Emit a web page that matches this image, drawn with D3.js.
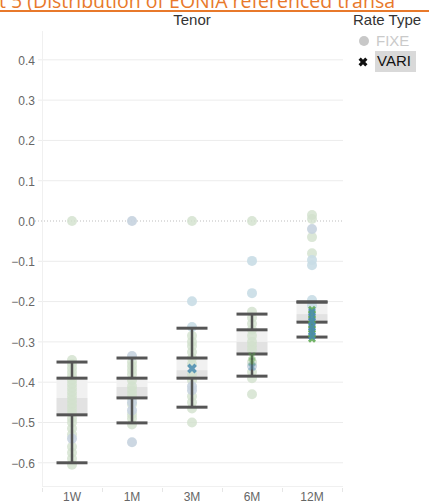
<!DOCTYPE html>
<html><head><meta charset="utf-8">
<script src="https://cdn.jsdelivr.net/npm/d3@7"></script>
<style>html,body{margin:0;padding:0;background:#fff;overflow:hidden}</style>
</head><body>
<svg id="chart" width="429" height="503"></svg>
<script>
// ---- data ----
const tenors = ["1W", "1M", "3M", "6M", "12M"];
const yTicks = [0.4, 0.3, 0.2, 0.1, 0.0, -0.1, -0.2, -0.3, -0.4, -0.5, -0.6];
const rateTypes = ["FIXE", "VARI"];

// box plot statistics per tenor
const upperWhisker = [-0.350, -0.340, -0.266, -0.231, -0.201];
const q3 = [-0.390, -0.390, -0.340, -0.270, -0.201];
const median = [-0.439, -0.412, -0.370, -0.300, -0.231];
const q1 = [-0.481, -0.439, -0.390, -0.330, -0.251];
const lowerWhisker = [-0.600, -0.501, -0.462, -0.385, -0.288];

// FIXE transactions (circles), by colour group: [tenor, rate]
const fixeGreen = [
  ["1W",0.0],["1W",-0.345],["1W",-0.355],["1W",-0.365],["1W",-0.375],["1W",-0.385],["1W",-0.395],
  ["1W",-0.405],["1W",-0.415],["1W",-0.425],["1W",-0.435],["1W",-0.445],["1W",-0.455],["1W",-0.465],
  ["1W",-0.475],["1W",-0.49],["1W",-0.50],["1W",-0.515],["1W",-0.53],["1W",-0.56],["1W",-0.575],
  ["1W",-0.59],["1W",-0.605],
  ["1M",-0.35],["1M",-0.36],["1M",-0.37],["1M",-0.38],["1M",-0.395],["1M",-0.41],["1M",-0.42],
  ["1M",-0.43],["1M",-0.44],["1M",-0.455],["1M",-0.48],["1M",-0.49],["1M",-0.505],
  ["3M",0.0],["3M",-0.285],["3M",-0.30],["3M",-0.31],["3M",-0.325],["3M",-0.34],["3M",-0.355],
  ["3M",-0.38],["3M",-0.395],["3M",-0.435],["3M",-0.45],["3M",-0.465],["3M",-0.50],
  ["6M",0.0],["6M",-0.225],["6M",-0.24],["6M",-0.255],["6M",-0.27],["6M",-0.285],["6M",-0.30],
  ["6M",-0.31],["6M",-0.32],["6M",-0.35],["6M",-0.375],["6M",-0.39],["6M",-0.43],
  ["12M",0.015],["12M",0.005],["12M",-0.04],["12M",-0.08]
];
const fixeSlate = [
  ["1W",-0.54],
  ["1M",0.0],["1M",-0.335],["1M",-0.45],["1M",-0.47],["1M",-0.549],
  ["3M",-0.41],["3M",-0.42],
  ["6M",-0.36],
  ["12M",-0.02]
];
const fixeSky = [
  ["3M",-0.199],["3M",-0.263],
  ["6M",-0.099],["6M",-0.179],
  ["12M",-0.097],["12M",-0.11],["12M",-0.196],["12M",-0.21]
];
// VARI transactions (crosses)
const variGreen = [
  ["6M",-0.335],["6M",-0.35],
  ["12M",-0.22],["12M",-0.232],["12M",-0.245],["12M",-0.258],["12M",-0.268],["12M",-0.28],["12M",-0.292]
];
const variBlue = [
  ["3M",-0.366],
  ["6M",-0.362],
  ["12M",-0.226],["12M",-0.238],["12M",-0.25],["12M",-0.263],["12M",-0.274],["12M",-0.286]
];

// ---- drawing ----
const svg = d3.select("#chart");
const font = "'Liberation Sans', Arial, sans-serif";

const x = d3.scaleBand().domain(tenors).range([42, 342]);
const y = d3.scaleLinear().domain([-0.6576, 0.4715]).range([486, 31]);
const cx = t => x(t) + x.bandwidth() / 2;

// title (cropped by the top edge as in the original)
svg.append("text").attr("x", -1).attr("y", 8)
  .attr("font-family", "'Open Sans', sans-serif").attr("font-size", 19.5)
  .attr("fill", "#e8792b").text("t 5 (Distribution of EONIA referenced transa");
svg.append("rect").attr("x", 0).attr("y", 10).attr("width", 429).attr("height", 2).attr("fill", "#e8792b");

// headers
svg.append("text").attr("x", (42 + 342) / 2).attr("y", 25).attr("text-anchor", "middle")
  .attr("font-family", font).attr("font-size", 15).attr("fill", "#333").text("Tenor");
svg.append("text").attr("x", 353).attr("y", 25)
  .attr("font-family", font).attr("font-size", 15).attr("fill", "#333").text("Rate Type");

// gridlines
const grid = svg.append("g");
yTicks.forEach(v => {
  if (v === 0) return;
  grid.append("line").attr("x1", 38).attr("x2", 343).attr("y1", y(v)).attr("y2", y(v))
    .attr("stroke", "#ececec").attr("stroke-width", 1);
});
grid.append("line").attr("x1", 35).attr("x2", 343).attr("y1", y(0)).attr("y2", y(0))
  .attr("stroke", "#bdbdbd").attr("stroke-width", 1).attr("stroke-dasharray", "1,2");

// axes frame
svg.append("line").attr("x1", 42.5).attr("x2", 42.5).attr("y1", 31).attr("y2", 486)
  .attr("stroke", "#f0f0f0");
svg.append("line").attr("x1", 42).attr("x2", 343).attr("y1", 486.5).attr("y2", 486.5)
  .attr("stroke", "#f0f0f0");

// y axis labels
const yAxis = d3.axisLeft(y).tickValues(yTicks).tickSize(0).tickPadding(0)
  .tickFormat(d3.format(".1f"));
const ya = svg.append("g").attr("transform", "translate(35,0)").call(yAxis);
ya.select(".domain").remove();
ya.selectAll("text").attr("font-family", font).attr("font-size", 12).attr("fill", "#666")
  .attr("dy", "0.36em").attr("x", 0);

// x axis
const xAxis = d3.axisBottom(x).tickSize(0).tickPadding(0);
const xa = svg.append("g").attr("transform", "translate(0,488)").call(xAxis);
xa.select(".domain").remove();
xa.selectAll("text").attr("font-family", font).attr("font-size", 12).attr("fill", "#666")
  .attr("y", 13).attr("dy", 0);
d3.range(tenors.length + 1).forEach(i => {
  const xx = 42 + i * x.step();
  svg.append("line").attr("x1", xx + 0.5).attr("x2", xx + 0.5).attr("y1", 488).attr("y2", 492)
    .attr("stroke", "#e6e6e6");
});

// box fills
const bw = 31;
const boxes = svg.append("g");
tenors.forEach((t, i) => {
  boxes.append("rect").attr("x", cx(t) - bw / 2).attr("width", bw)
    .attr("y", y(q3[i])).attr("height", y(median[i]) - y(q3[i])).attr("fill", "#f1f1f1");
  boxes.append("rect").attr("x", cx(t) - bw / 2).attr("width", bw)
    .attr("y", y(median[i])).attr("height", y(q1[i]) - y(median[i])).attr("fill", "#e2e2e2");
});

// FIXE circles (faded)
const marks = svg.append("g");
const circleSeries = [
  {data: fixeGreen, color: "#d2e1cd", op: 0.8},
  {data: fixeSlate, color: "#c6d3df", op: 0.9},
  {data: fixeSky, color: "#c9dde6", op: 0.9}
];
circleSeries.forEach(s => {
  marks.selectAll(null).data(s.data).join("circle")
    .attr("cx", d => cx(d[0])).attr("cy", d => y(d[1])).attr("r", 5)
    .attr("fill", s.color).attr("fill-opacity", s.op);
});

// whiskers
const wh = svg.append("g").attr("stroke", "#555");
tenors.forEach((t, i) => {
  const c = cx(t);
  wh.append("line").attr("x1", c).attr("x2", c).attr("y1", y(upperWhisker[i])).attr("y2", y(q3[i])).attr("stroke-width", 2.5);
  wh.append("line").attr("x1", c).attr("x2", c).attr("y1", y(q1[i])).attr("y2", y(lowerWhisker[i])).attr("stroke-width", 2.5);
  [upperWhisker[i], q3[i], q1[i], lowerWhisker[i]].forEach(v => {
    wh.append("line").attr("x1", c - bw / 2).attr("x2", c + bw / 2).attr("y1", y(v)).attr("y2", y(v)).attr("stroke-width", 3);
  });
});

// VARI crosses (drawn on top)
const vm = svg.append("g");
const cross = d3.symbol().type(d3.symbolCross).size(40);
const bigCross = d3.symbol().type(d3.symbolCross).size(60);
const crossSeries = [
  {data: variGreen, color: "#5aa84c"},
  {data: variBlue, color: "#4a8cb0"}
];
crossSeries.forEach(s => {
  vm.selectAll(null).data(s.data).join("path")
    .attr("d", d => d[0] === "3M" ? bigCross() : cross())
    .attr("transform", d => `translate(${cx(d[0])},${y(d[1])}) rotate(45)`)
    .attr("fill", s.color).attr("fill-opacity", d => d[0] === "6M" ? 0.4 : 0.85);
});

// legend
const lg = svg.append("g");
lg.append("circle").attr("cx", 364).attr("cy", 41).attr("r", 5).attr("fill", "#c8c8c8");
lg.append("text").attr("x", 376).attr("y", 46).attr("font-family", font).attr("font-size", 15)
  .attr("fill", "#cacaca").text(rateTypes[0]);
lg.append("rect").attr("x", 375).attr("y", 51).attr("width", 41).attr("height", 21).attr("fill", "#d9d9d9");
lg.append("path").attr("d", d3.symbol().type(d3.symbolCross).size(50))
  .attr("transform", "translate(363,62) rotate(45)").attr("fill", "#111");
lg.append("text").attr("x", 377).attr("y", 66).attr("font-family", font).attr("font-size", 15)
  .attr("fill", "#111").text(rateTypes[1]);
</script>
</body></html>
